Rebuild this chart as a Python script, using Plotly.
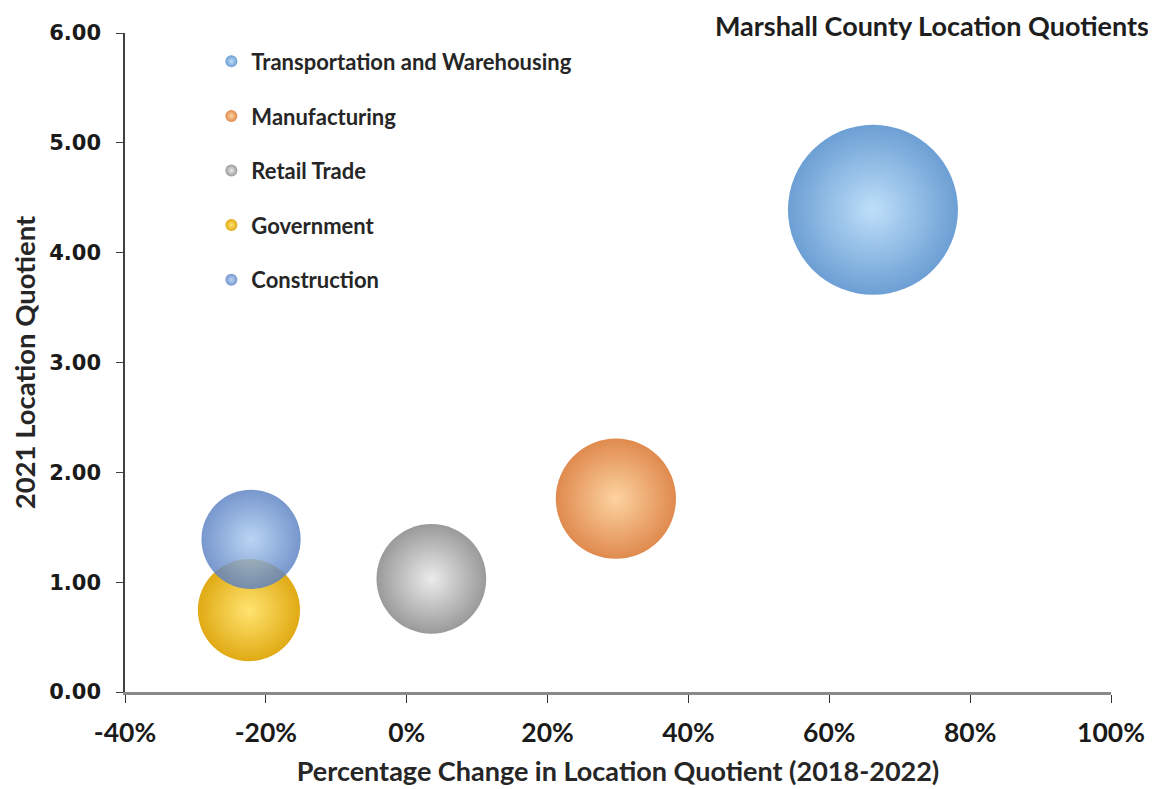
import plotly.graph_objects as go

# ---- data ----
industries = ["Transportation and Warehousing", "Manufacturing", "Retail Trade",
              "Government", "Construction"]
pct_change = [0.662, 0.297, 0.035, -0.224, -0.221]      # x: % change in LQ (2018-2022)
lq_2021 = [4.39, 1.76, 1.03, 0.745, 1.39]               # y: 2021 location quotient
bubble_size = [7200, 3600, 3000, 2600, 2450]            # relative bubble size (area)

x_tick_vals = [-0.4, -0.2, 0.0, 0.2, 0.4, 0.6, 0.8, 1.0]
x_tick_text = ["-40%", "-20%", "0%", "20%", "40%", "60%", "80%", "100%"]
y_tick_vals = [0, 1, 2, 3, 4, 5, 6]
y_tick_text = ["0.00", "1.00", "2.00", "3.00", "4.00", "5.00", "6.00"]

# ---- styles ----
edge_colors = ["#6c9fd4", "#e08a4e", "#9a9a9a", "#e0aa14", "#5a80c2"]
center_colors = ["#bedff9", "#fcd3a0", "#ebebeb", "#ffe470", "#aacbf0"]
opacities = [1, 1, 1, 1, 0.82]

max_diam = 170
sizeref = 2.0 * max(bubble_size) / (max_diam ** 2)

fig = go.Figure()
for i, name in enumerate(industries):
    fig.add_trace(go.Scatter(
        x=[pct_change[i]], y=[lq_2021[i]],
        mode="markers", name=name, legendgroup=name,
        marker=dict(size=[bubble_size[i]], sizemode="area", sizeref=sizeref,
                    color=edge_colors[i], opacity=opacities[i],
                    gradient=dict(type="radial", color=center_colors[i]),
                    line=dict(width=0)),
        hovertemplate="%{x:.1%}, %{y:.2f}<extra>" + name + "</extra>",
    ))

fig.update_layout(
    width=1156, height=789,
    paper_bgcolor="white", plot_bgcolor="white",
    margin=dict(l=116.5, r=52.5, t=25, b=104.5, autoexpand=False),
    title=dict(text="Marshall County Location Quotients",
               x=0.987, xanchor="right", xref="container",
               y=0.976, yanchor="middle", yref="container",
               font=dict(family="Lato", size=27, color="#1e1e1e", weight="bold")),
    showlegend=True,
    legend=dict(x=0.0876, y=0.9886, xanchor="left", yanchor="top",
                bgcolor="rgba(0,0,0,0)", itemsizing="constant",
                tracegroupgap=23,
                font=dict(family="Lato", size=22, color="#262626", weight="bold")),
    xaxis=dict(range=[-0.4, 1.0], tickvals=x_tick_vals, ticktext=x_tick_text,
               showgrid=False, zeroline=False,
               showline=True, linecolor="#8a8a8a", linewidth=3,
               ticks="outside", ticklen=8, tickwidth=1, tickcolor="#333333",
               ticklabelstandoff=7,
               tickfont=dict(family="Lato", size=26.5, color="#1a1a1a", weight="bold"),
               title=dict(text="Percentage Change in Location Quotient (2018-2022)",
                          standoff=16,
                          font=dict(family="Lato", size=27, color="#262626", weight="bold"))),
    yaxis=dict(range=[0, 6], tickvals=y_tick_vals, ticktext=y_tick_text,
               showgrid=False, zeroline=False,
               showline=True, linecolor="#404040", linewidth=1.5,
               ticks="outside", ticklen=7, tickwidth=1, tickcolor="#404040",
               ticklabelstandoff=11,
               tickfont=dict(family="DejaVu Sans", size=21, color="#1a1a1a", weight="bold"),
               title=dict(text="2021 Location Quotient", standoff=13,
                          font=dict(family="Lato", size=27.5, color="#262626", weight="bold"))),
    yaxis2=dict(range=[0, 6], overlaying="y", side="left", anchor="x",
                tickvals=y_tick_vals, showticklabels=False, showgrid=False,
                zeroline=False, showline=False,
                ticks="inside", ticklen=7, tickwidth=1, tickcolor="#404040"),
)

fig.write_html("out.html")
